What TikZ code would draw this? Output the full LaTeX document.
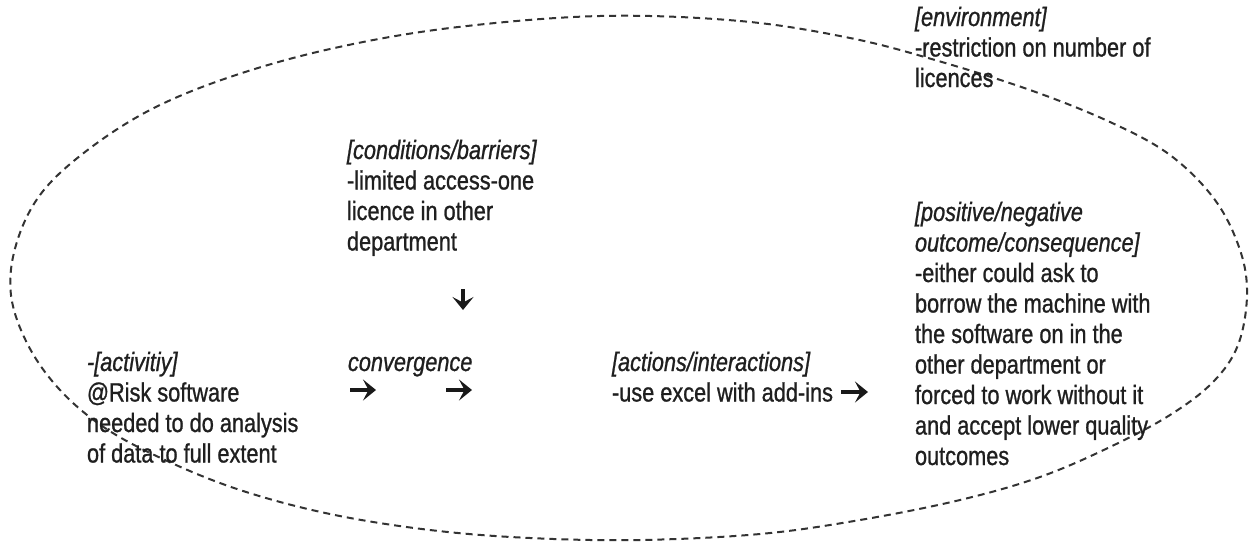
\documentclass[tikz,border=0pt]{standalone}
\usepackage{fontspec}
\setmainfont[FakeStretch=0.82,FakeBold=0.9]{Liberation Sans}
\usetikzlibrary{arrows.meta}

% a left-aligned block whose baseline is that of its first line
\newcommand{\textblock}[1]{\begin{tabular}[t]{@{}l@{}}#1\end{tabular}}

\tikzset{
  label text/.style={anchor=base west, inner sep=0pt, outer sep=0pt,
    text=black!88, font=\fontsize{26.5}{30.5}\selectfont},
  glyph arrow/.style={line width=4.2pt, draw=black!90,
    -{Stealth[length=13pt,width=21pt,inset=5.5pt]}},
  boundary/.style={draw=black!80, line width=2pt,
    dash pattern=on 7pt off 5pt},
}

\begin{document}
\begin{tikzpicture}[x=1pt,y=-1pt]
\useasboundingbox (0,0) rectangle (1253,544);

% dashed boundary of the activity system
\draw[boundary] plot[smooth cycle, tension=0.6] coordinates {
  (600,16) (740,21) (850,38) (935,60) (1030,90) (1110,122) (1170,155)
  (1215,200) (1240,250) (1247,295) (1238,345) (1213,382) (1170,415)
  (1110,447) (1040,477) (960,500) (860,520) (760,534) (640,540)
  (530,538) (430,530) (330,514) (240,490) (165,460) (105,428) (60,390)
  (28,345) (11,295) (16,245) (40,195) (85,152) (150,110) (230,77)
  (330,49) (450,28)};

% text blocks
\node[label text] (environment) at (915,26)
  {\textblock{\itshape [environment]\\-restriction on number of\\licences}};

\node[label text] (conditions) at (347,159)
  {\textblock{\itshape [conditions/barriers]\\-limited access-one\\licence in other\\department}};

\node[label text] (activity) at (87,371)
  {\textblock{\itshape -[activitiy]\\@Risk software\\needed to do analysis\\of data to full extent}};

\node[label text] (convergence) at (348,371)
  {\textblock{\itshape convergence}};

\node[label text] (actions) at (612,371)
  {\textblock{\itshape [actions/interactions]\\-use excel with add-ins}};

\node[label text] (outcome) at (915,221)
  {\textblock{\itshape [positive/negative\\\itshape outcome/consequence]\\-either could ask to\\borrow the machine with\\the software on in the\\other department or\\forced to work without it\\and accept lower quality\\outcomes}};

% arrow marks
\coordinate (downA) at (463,289);
\coordinate (downB) at (463,310);
\coordinate (convA1) at (350,390);
\coordinate (convB1) at (376,390);
\coordinate (convA2) at (446,390);
\coordinate (convB2) at (472,390);
\coordinate (actA) at (841,392);
\coordinate (actB) at (868,392);

\draw[glyph arrow] (downA) -- (downB);
\draw[glyph arrow] (convA1) -- (convB1);
\draw[glyph arrow] (convA2) -- (convB2);
\draw[glyph arrow] (actA) -- (actB);
\end{tikzpicture}
\end{document}
